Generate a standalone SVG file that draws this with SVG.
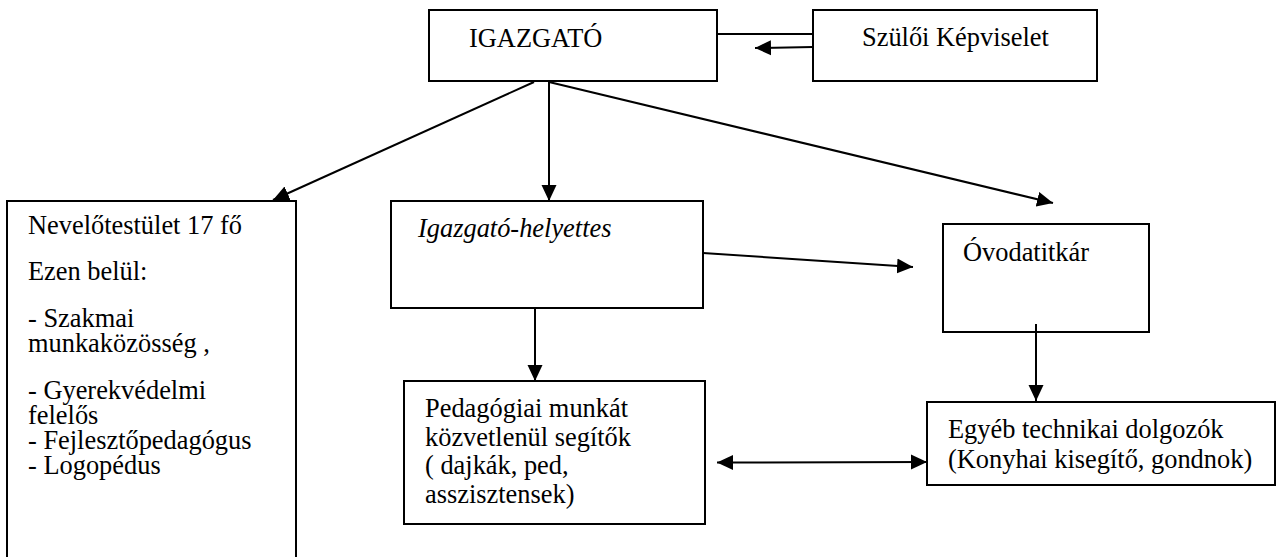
<svg xmlns="http://www.w3.org/2000/svg" width="1277" height="557" viewBox="0 0 1277 557">
<style>
.box{fill:#fff;stroke:#000;stroke-width:2}
.t{font-family:"Liberation Serif","Times New Roman",serif;font-size:26.4px;fill:#000}
.i{font-style:italic}
.c{stroke:#000;stroke-width:2;fill:none}
.a{marker-end:url(#ah)}
.d{marker-start:url(#ah);marker-end:url(#ah)}
</style>
<defs>
<marker id="ah" viewBox="0 0 16 16" markerWidth="16" markerHeight="16" refX="16" refY="8" orient="auto-start-reverse" markerUnits="userSpaceOnUse">
<path d="M0,0.5 L16,8 L0,15.5 z" fill="#000"/>
</marker>
</defs>
<rect width="1277" height="557" fill="#fff"/>
<g id="igazgato">
<rect class="box" x="429" y="10" width="288" height="71"/>
<text class="t" x="469" y="47">IGAZGATÓ</text>
</g>
<g id="szuloi">
<rect class="box" x="813" y="10" width="284" height="71"/>
<text class="t" x="862" y="46">Szülői Képviselet</text>
</g>
<g id="nevelotestulet">
<rect class="box" x="7" y="201" width="289" height="380"/>
<text class="t" x="28" y="234">Nevelőtestület 17 fő</text>
<text class="t" x="28" y="280">Ezen belül:</text>
<text class="t" x="28" y="327">- Szakmai</text>
<text class="t" x="28" y="352">munkaközösség ,</text>
<text class="t" x="28" y="399">- Gyerekvédelmi</text>
<text class="t" x="28" y="424">felelős</text>
<text class="t" x="28" y="449">- Fejlesztőpedagógus</text>
<text class="t" x="28" y="474">- Logopédus</text>
</g>
<g id="helyettes">
<rect class="box" x="391" y="201" width="312" height="107"/>
<text class="t i" x="418" y="237">Igazgató-helyettes</text>
</g>
<g id="ovodatitkar">
<rect class="box" x="943" y="224" width="206" height="108"/>
<text class="t" x="963" y="261">Óvodatitkár</text>
</g>
<g id="pedagogiai">
<rect class="box" x="404" y="381" width="301" height="143"/>
<text class="t" x="425" y="417">Pedagógiai munkát</text>
<text class="t" x="425" y="446">közvetlenül segítők</text>
<text class="t" x="425" y="474">( dajkák, ped,</text>
<text class="t" x="425" y="503">asszisztensek)</text>
</g>
<g id="egyeb">
<rect class="box" x="927" y="402" width="348" height="83"/>
<text class="t" x="948" y="438">Egyéb technikai dolgozók</text>
<text class="t" x="948" y="468">(Konyhai kisegítő, gondnok)</text>
</g>
<g id="connectors">
<line class="c" x1="717" y1="34" x2="813" y2="34"/>
<line class="c a" x1="813" y1="47" x2="755" y2="48"/>
<line class="c a" x1="534" y1="82" x2="273" y2="200"/>
<line class="c a" x1="549" y1="82" x2="549" y2="201"/>
<line class="c a" x1="549" y1="82" x2="1053" y2="203"/>
<line class="c a" x1="703" y1="253" x2="913" y2="267"/>
<line class="c a" x1="535" y1="308" x2="535" y2="381"/>
<line class="c a" x1="1036" y1="324" x2="1036" y2="401"/>
<line class="c d" x1="717" y1="462.5" x2="927" y2="462"/>
</g>
</svg>
